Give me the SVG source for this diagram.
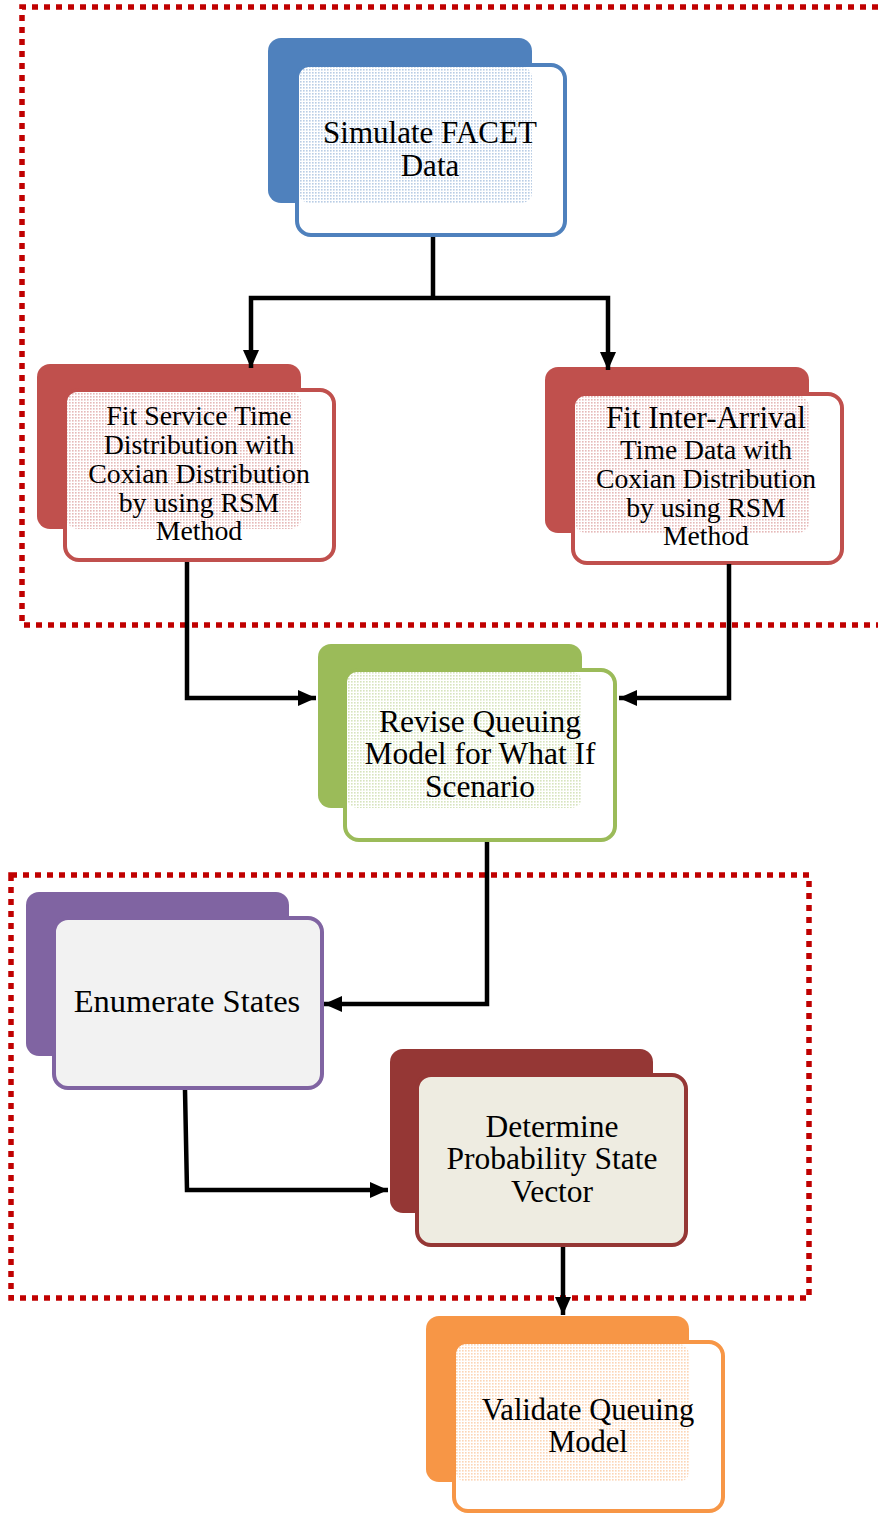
<svg xmlns="http://www.w3.org/2000/svg" width="878" height="1514" viewBox="0 0 878 1514">
<defs>
<style>
.t{font-family:"Liberation Serif","Times New Roman",serif;fill:#000;text-anchor:middle}
.back{stroke:none}
.front{stroke-width:4}
.conn{fill:none;stroke:#000;stroke-width:4.5}
.dash{fill:none;stroke:#c00000;stroke-width:5.5;stroke-dasharray:6 6}
</style>
<pattern id="pb" width="3" height="3" patternUnits="userSpaceOnUse"><rect width="3" height="3" fill="#fff"/><rect width="1.6" height="1.6" fill="#b9cde5"/></pattern>
<pattern id="pr" width="3" height="3" patternUnits="userSpaceOnUse"><rect width="3" height="3" fill="#fff"/><rect width="1.6" height="1.6" fill="#e6b9b8"/></pattern>
<pattern id="pg" width="3" height="3" patternUnits="userSpaceOnUse"><rect width="3" height="3" fill="#fff"/><rect width="1.6" height="1.6" fill="#d7e4bd"/></pattern>
<pattern id="po" width="3" height="3" patternUnits="userSpaceOnUse"><rect width="3" height="3" fill="#fff"/><rect width="1.6" height="1.6" fill="#fcd5b5"/></pattern>
<marker id="ah" markerUnits="userSpaceOnUse" markerWidth="20" markerHeight="20" viewBox="0 0 20 20" refX="18" refY="10" orient="auto">
<path d="M0,2 L18,10 L0,18 Z" fill="#000"/>
</marker>
</defs>
<rect width="878" height="1514" fill="#fff"/>

<g id="boundaries">
<path class="dash" d="M878,7 H22 V625 H878"/>
<rect class="dash" x="11" y="875" width="798" height="423"/>
</g>

<g id="n1">
<rect class="back" x="268" y="38" width="264" height="165" rx="13" fill="#4f81bd"/>
<rect class="front" x="297" y="65" width="268" height="170" rx="14" fill="#fff" stroke="#4f81bd"/>
<rect x="299" y="67" width="233" height="136" rx="10" fill="url(#pb)"/>
<text class="t" font-size="31" x="430" y="143">Simulate FACET</text>
<text class="t" font-size="31" x="430" y="176">Data</text>
</g>

<g id="n2">
<rect class="back" x="37" y="364" width="264" height="165" rx="13" fill="#c0504d"/>
<rect class="front" x="65" y="390" width="269" height="170" rx="14" fill="#fff" stroke="#c0504d"/>
<rect x="67" y="392" width="234" height="137" rx="10" fill="url(#pr)"/>
<text class="t" font-size="27.8" x="199" y="425">Fit Service Time</text>
<text class="t" font-size="27.8" x="199" y="454">Distribution with</text>
<text class="t" font-size="27.8" x="199" y="483">Coxian Distribution</text>
<text class="t" font-size="27.8" x="199" y="512">by using RSM</text>
<text class="t" font-size="27.8" x="199" y="540">Method</text>
</g>

<g id="n3">
<rect class="back" x="545" y="367" width="264" height="166" rx="13" fill="#c0504d"/>
<rect class="front" x="573" y="394" width="269" height="169" rx="14" fill="#fff" stroke="#c0504d"/>
<rect x="575" y="396" width="234" height="137" rx="10" fill="url(#pr)"/>
<text class="t" font-size="31" x="706" y="428">Fit Inter-Arrival</text>
<text class="t" font-size="27.6" x="706" y="459">Time Data with</text>
<text class="t" font-size="27.6" x="706" y="488">Coxian Distribution</text>
<text class="t" font-size="27.6" x="706" y="517">by using RSM</text>
<text class="t" font-size="27.6" x="706" y="545">Method</text>
</g>

<g id="n4">
<rect class="back" x="318" y="644" width="264" height="164" rx="13" fill="#9bbb59"/>
<rect class="front" x="345" y="670" width="270" height="170" rx="14" fill="#fff" stroke="#9bbb59"/>
<rect x="347" y="672" width="235" height="136" rx="10" fill="url(#pg)"/>
<text class="t" font-size="31.5" x="480" y="732">Revise Queuing</text>
<text class="t" font-size="31.5" x="480" y="764">Model for What If</text>
<text class="t" font-size="31.5" x="480" y="797">Scenario</text>
</g>

<g id="n5">
<rect class="back" x="26" y="892" width="263" height="164" rx="13" fill="#8064a2"/>
<rect class="front" x="54" y="918" width="268" height="170" rx="14" fill="#f2f2f2" stroke="#8064a2"/>
<text class="t" font-size="32.5" x="187" y="1012">Enumerate States</text>
</g>

<g id="n6">
<rect class="back" x="390" y="1049" width="263" height="164" rx="13" fill="#953735"/>
<rect class="front" x="417" y="1075" width="269" height="170" rx="14" fill="#eeece1" stroke="#953735"/>
<text class="t" font-size="31.5" x="552" y="1137">Determine</text>
<text class="t" font-size="31.5" x="552" y="1169">Probability State</text>
<text class="t" font-size="31.5" x="552" y="1202">Vector</text>
</g>

<g id="n7">
<rect class="back" x="426" y="1316" width="263" height="166" rx="13" fill="#f79646"/>
<rect class="front" x="454" y="1342" width="269" height="169" rx="14" fill="#fff" stroke="#f79646"/>
<rect x="456" y="1344" width="233" height="138" rx="10" fill="url(#po)"/>
<text class="t" font-size="30.5" x="588" y="1420">Validate Queuing</text>
<text class="t" font-size="30.5" x="588" y="1452">Model</text>
</g>

<g id="connectors">
<path class="conn" d="M433,237 V298"/>
<path class="conn" d="M433,298 H251 V368" marker-end="url(#ah)"/>
<path class="conn" d="M433,298 H608 V370" marker-end="url(#ah)"/>
<path class="conn" d="M187,562 V698 H316" marker-end="url(#ah)"/>
<path class="conn" d="M729,564 V698 H619" marker-end="url(#ah)"/>
<path class="conn" d="M487,842 V1004 H324" marker-end="url(#ah)"/>
<path class="conn" d="M185,1090 L187,1190 H388" marker-end="url(#ah)"/>
<path class="conn" d="M563,1247 V1315" marker-end="url(#ah)"/>
</g>
</svg>
